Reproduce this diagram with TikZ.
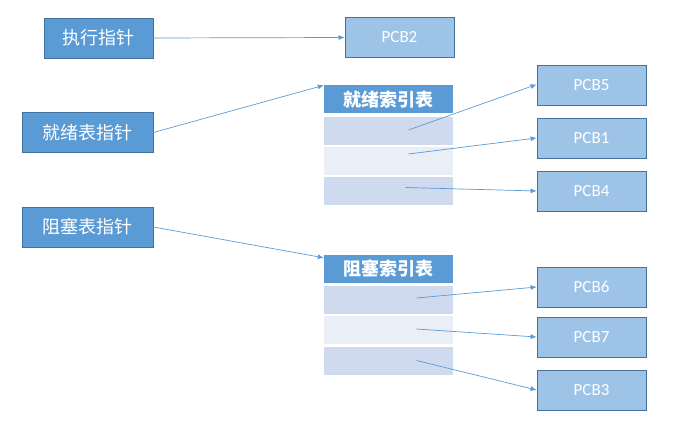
\documentclass[tikz,border=0pt]{standalone}
\usepackage{fontspec}
\setmainfont{Carlito}
\newfontfamily\cjk{Noto Sans CJK SC}
\usetikzlibrary{arrows.meta}

\definecolor{ptrblue}{HTML}{5B9BD5}
\definecolor{ptredge}{HTML}{41719C}
\definecolor{pcbblue}{HTML}{9DC3E6}
\definecolor{rowdark}{HTML}{CFDAEE}
\definecolor{rowlight}{HTML}{E9EEF7}

\begin{document}
\begin{tikzpicture}[
    x=1pt, y=-1pt,
    ptr/.style={
        rectangle, draw=ptredge, fill=ptrblue, line width=0.8pt,
        minimum width=131pt, minimum height=40pt,
        font=\cjk\fontsize{18}{20}\selectfont, text=white, inner sep=0pt
    },
    pcb/.style={
        rectangle, draw=ptredge, fill=pcbblue, line width=0.8pt,
        minimum width=109pt, minimum height=40pt,
        font=\fontsize{17}{19}\selectfont, text=white, inner sep=0pt
    },
    head/.style={
        rectangle, fill=ptrblue, minimum width=129pt, minimum height=28pt,
        font=\cjk\bfseries\fontsize{18}{20}\selectfont, text=white, inner sep=0pt
    },
    row/.style={rectangle, fill=#1, minimum width=129pt, minimum height=28pt, inner sep=0pt},
    arrow/.style={-{Latex[length=6pt,width=5pt]}, draw=ptrblue, line width=0.7pt}
]
\useasboundingbox (0,0) rectangle (679,427);

% pointers
\node[ptr, minimum width=109pt] (run) at (98.5,38) {执行指针};
\node[ptr] (rdyptr) at (87.5,132.5) {就绪表指针};
\node[ptr] (blkptr) at (87.5,227) {阻塞表指针};

% index tables
\node[head] (rdyhead) at (388.5,99.5) {就绪索引表};
\node[row=rowdark]  (rdy1) at (388.5,131) {};
\node[row=rowlight] (rdy2) at (388.5,161) {};
\node[row=rowdark]  (rdy3) at (388.5,191.5) {};

\node[head] (blkhead) at (388.5,269) {阻塞索引表};
\node[row=rowdark]  (blk1) at (388.5,300) {};
\node[row=rowlight] (blk2) at (388.5,330) {};
\node[row=rowdark]  (blk3) at (388.5,360.5) {};

% PCBs
\node[pcb] (pcb2) at (399.5,37.5) {PCB2};
\node[pcb] (pcb5) at (591.5,85.5) {PCB5};
\node[pcb] (pcb1) at (591.5,138) {PCB1};
\node[pcb] (pcb4) at (591.5,191) {PCB4};
\node[pcb] (pcb6) at (591.5,287) {PCB6};
\node[pcb] (pcb7) at (591.5,337) {PCB7};
\node[pcb] (pcb3) at (591.5,390) {PCB3};

% links
\draw[arrow] (run.east) -- (pcb2.west);
\draw[arrow] (rdyptr.east) -- (rdyhead.north west);
\draw[arrow] (blkptr.east) -- ([yshift=-3pt]blkhead.north west);
\draw[arrow] ([xshift=20pt,yshift=1pt]rdy1.center) -- ([yshift=1pt]pcb5.west);
\draw[arrow] ([xshift=20pt,yshift=7pt]rdy2.center) -- (pcb1.west);
\draw[arrow] ([xshift=17pt,yshift=4pt]rdy3.center) -- (pcb4.west);
\draw[arrow] ([xshift=28pt,yshift=2pt]blk1.center) -- (pcb6.west);
\draw[arrow] ([xshift=28pt,yshift=1pt]blk2.center) -- (pcb7.west);
\draw[arrow] ([xshift=28pt]blk3.center) -- (pcb3.west);

\end{tikzpicture}
\end{document}
